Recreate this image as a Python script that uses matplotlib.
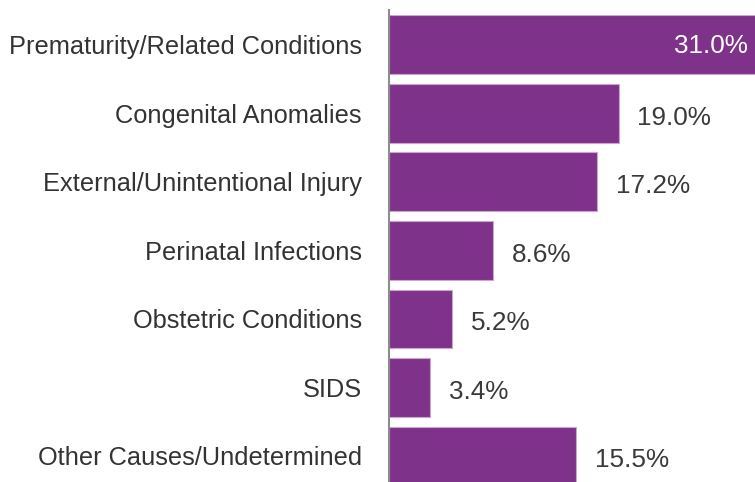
import matplotlib
matplotlib.use('Agg')
import matplotlib.pyplot as plt

causes = ['Prematurity/Related Conditions', 'Congenital Anomalies',
          'External/Unintentional Injury', 'Perinatal Infections',
          'Obstetric Conditions', 'SIDS', 'Other Causes/Undetermined']
pct = [31.0, 19.0, 17.2, 8.6, 5.2, 3.4, 15.5]

plt.rcParams['font.family'] = ['Liberation Sans', 'DejaVu Sans']

fig = plt.figure(figsize=(7.55, 4.82), dpi=100)
ax = fig.add_axes([389 / 755, 0.0, 1 - 389 / 755, 1 - 10 / 482])

pos = list(range(len(causes)))
ax.barh(pos, pct, height=0.86, color='#7F3289', edgecolor='#C9A6D0', linewidth=0.8)
ax.set_xlim(0, 30.3)
ax.set_ylim(6.38, -0.51)

ax.set_yticks(pos)
ax.set_yticklabels(causes, fontsize=18.3, color='#333333')
ax.tick_params(axis='y', length=0, pad=19.5)
ax.set_xticks([])
for s in ['top', 'right', 'bottom']:
    ax.spines[s].set_visible(False)
ax.spines['left'].set_color('#8C8C8C')
ax.spines['left'].set_linewidth(1.5)

for i, v in enumerate(pct):
    if i == 0:
        ax.annotate(f'{v:.1f}%', (30.3, i), xytext=(-5, -1), textcoords='offset points',
                    ha='right', va='center', fontsize=18.8, color='white')
    else:
        ax.annotate(f'{v:.1f}%', (v, i), xytext=(13.5, -3), textcoords='offset points',
                    ha='left', va='center', fontsize=18.8, color='#3A3A3A')

fig.savefig('out.png', dpi=100)
